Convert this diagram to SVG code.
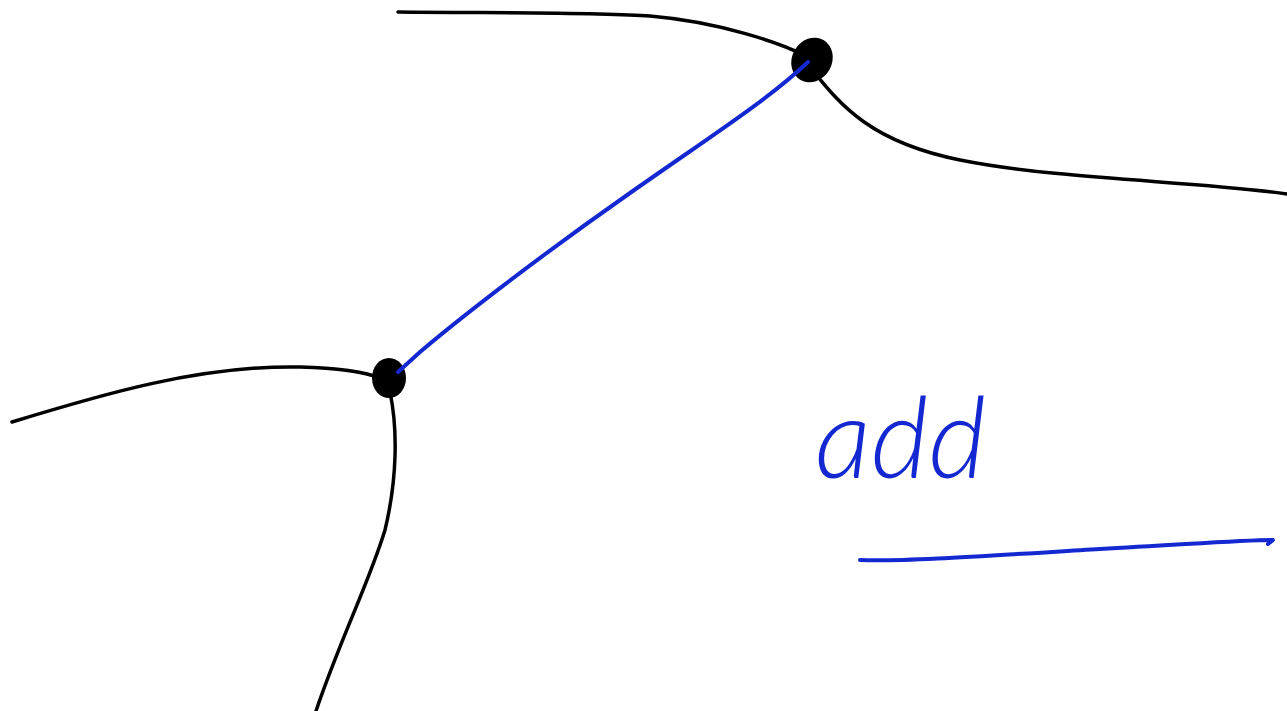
<svg xmlns="http://www.w3.org/2000/svg" width="1287" height="711" viewBox="0 0 1287 711">
<style>
.ink{fill:none;stroke:#000;stroke-width:3.5;stroke-linecap:round;stroke-linejoin:round}
.blue{fill:none;stroke:#1428d2;stroke-width:4;stroke-linecap:round;stroke-linejoin:round}
.dot{fill:#000}
.hand{font-family:Lato,"Liberation Sans",sans-serif;font-weight:300;font-style:italic;fill:#1428d2}
</style>
<rect width="1287" height="711" fill="#fff"/>
<g id="node-top">
<ellipse class="dot" cx="812" cy="60" rx="20" ry="23" transform="rotate(30 812 60)"/>
</g>
<g id="node-left">
<ellipse class="dot" cx="389" cy="378" rx="17" ry="20"/>
</g>
<g id="connectors">
<path class="ink" d="M398,12 C500,13 600,12 650,16 C720,22 780,43 806,56"/>
<path class="ink" d="M814,72 C840,104 870,142 960,160 C1060,180 1200,181 1287,194"/>
<path class="ink" d="M12,422 C100,395 200,365 300,367 C340,368 365,372 380,378"/>
<path class="ink" d="M390,392 C398,430 397,480 385,530 C370,580 340,640 316,711"/>
<path class="blue" d="M808,62 C770,98 720,130 630,193 C540,256 460,318 420,352 L398,372"/>
</g>
<g id="label">
<text class="hand" x="815" y="478" font-size="112">add</text>
<path class="blue" d="M860,560 C900,562 1000,555 1100,549 C1180,545 1240,540 1273,540 L1268,544"/>
</g>
</svg>
